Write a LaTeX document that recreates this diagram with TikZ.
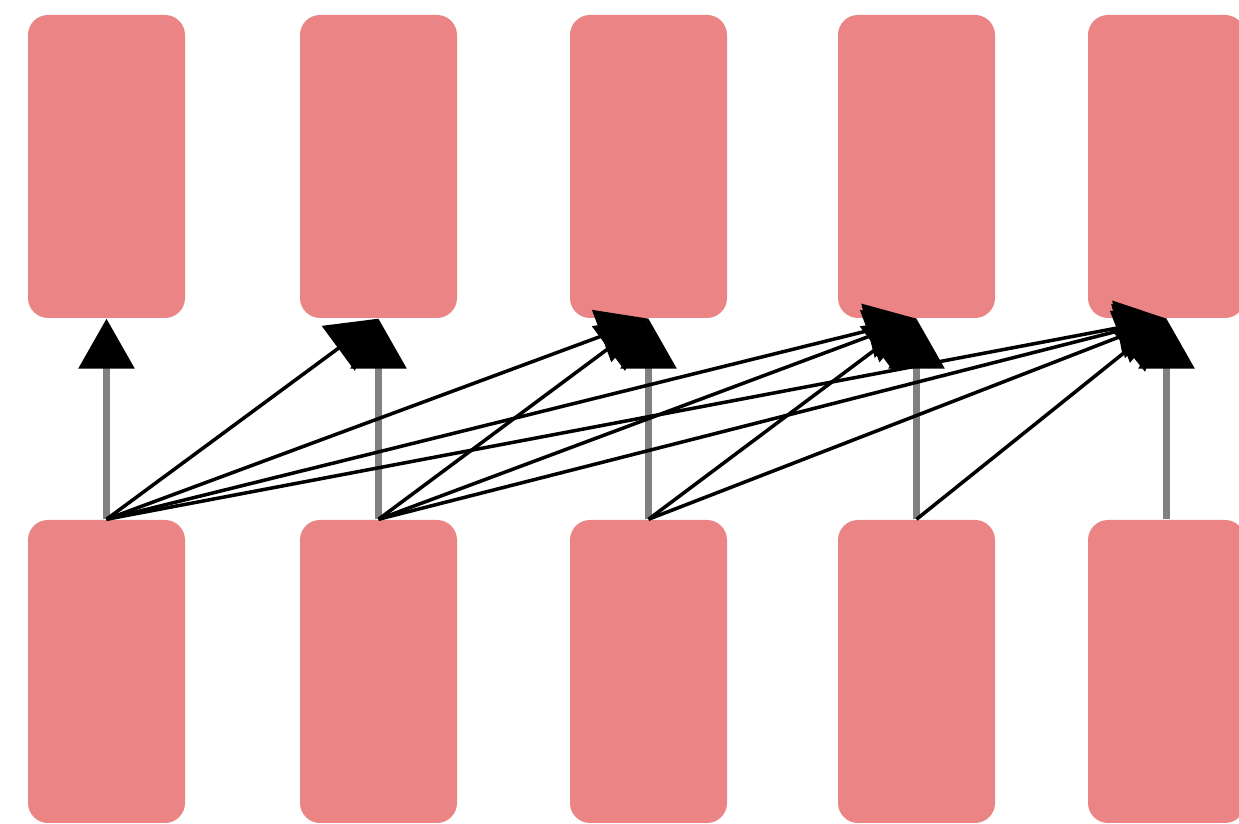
\documentclass[tikz,border=0pt]{standalone}
\usetikzlibrary{arrows.meta}
\definecolor{tokenred}{RGB}{235,132,132}
\tikzset{
  token/.style={fill=tokenred, rounded corners=0.2cm, minimum width=1.57cm, minimum height=3.03cm, inner sep=0pt},
  selfedge/.style={draw=gray, line width=1.8pt, -{Triangle[length=0.5cm, width=0.55cm, color=black]}},
  attnedge/.style={draw=black, line width=1pt, -{Triangle[length=0.5cm, width=0.55cm]}}
}
\begin{document}
\begin{tikzpicture}
\useasboundingbox (0,0) rectangle (12.39,8.24);
% outputs
\node[token] (o1) at (1.065,6.575) {};
\node[token] (o2) at (3.785,6.575) {};
\node[token] (o3) at (6.485,6.575) {};
\node[token] (o4) at (9.165,6.575) {};
\node[token] (o5) at (11.665,6.575) {};
% inputs
\node[token] (x1) at (1.065,1.525) {};
\node[token] (x2) at (3.785,1.525) {};
\node[token] (x3) at (6.485,1.525) {};
\node[token] (x4) at (9.165,1.525) {};
\node[token] (x5) at (11.665,1.525) {};
% straight up
\draw[selfedge] (x1.north) -- (o1.south);
\draw[selfedge] (x2.north) -- (o2.south);
\draw[selfedge] (x3.north) -- (o3.south);
\draw[selfedge] (x4.north) -- (o4.south);
\draw[selfedge] (x5.north) -- (o5.south);
% to later positions
\draw[attnedge] (x1.north) -- (o2.south);
\draw[attnedge] (x1.north) -- (o3.south);
\draw[attnedge] (x1.north) -- (o4.south);
\draw[attnedge] (x1.north) -- (o5.south);
\draw[attnedge] (x2.north) -- (o3.south);
\draw[attnedge] (x2.north) -- (o4.south);
\draw[attnedge] (x2.north) -- (o5.south);
\draw[attnedge] (x3.north) -- (o4.south);
\draw[attnedge] (x3.north) -- (o5.south);
\draw[attnedge] (x4.north) -- (o5.south);
\end{tikzpicture}
\end{document}
